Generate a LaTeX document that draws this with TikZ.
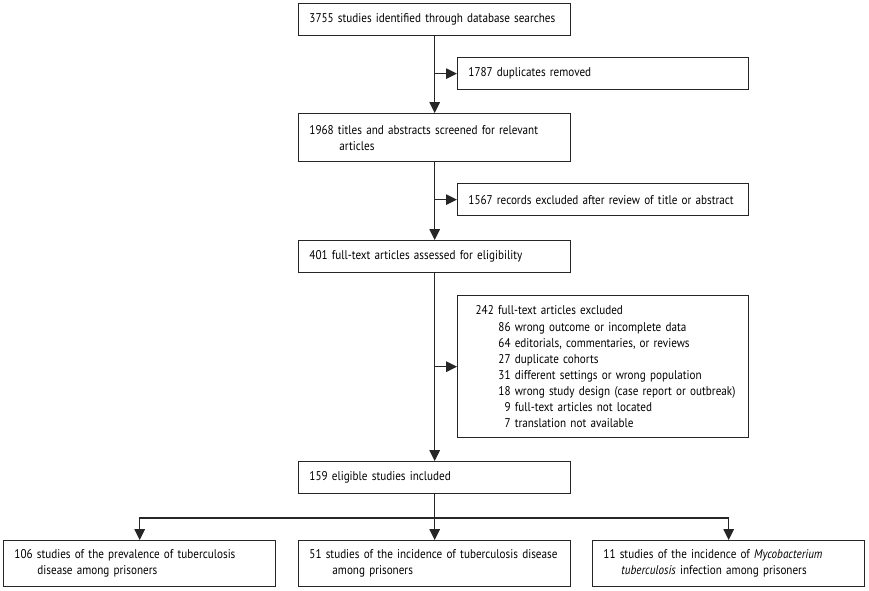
\documentclass[tikz,border=0pt]{standalone}
\usepackage{fontspec}
\setmainfont{PT Sans}[FakeStretch=0.88]
\usetikzlibrary{arrows.meta}
\tikzset{
	box/.style={draw=black!85, line width=0.9pt, anchor=north west, align=left,
		inner xsep=0.27cm, inner ysep=0pt, minimum height=0.8cm,
		font=\fontsize{9}{11.4}\selectfont},
	mainbox/.style={box, text width=6.26cm},
	sidebox/.style={box, text width=6.735cm},
	arr/.style={draw=black!85, line width=0.9pt, -{Triangle[length=0.27cm,width=0.26cm]}},
}
\newcommand{\exclitem}{\hspace*{0.75cm}}
\begin{document}
\begin{tikzpicture}[x=0.025cm,y=-0.025cm]
\useasboundingbox (0,0) rectangle (869,591);

\node[mainbox] (ident) at (298,3) {3755 studies identified through database searches};
\node[sidebox] (dup) at (457,57) {1787 duplicates removed};
\node[mainbox, minimum height=1.2cm] (screen) at (298,113)
	{1968 titles and abstracts screened for relevant\\\hspace*{0.75cm}articles};
\node[sidebox] (recx) at (457,183) {1567 records excluded after review of title or abstract};
\node[mainbox] (full) at (298,240) {401 full-text articles assessed for eligibility};
\node[sidebox, minimum height=3.55cm] (excl) at (457,295)
	{\hspace*{0.18cm}242 full-text articles excluded\\
	\exclitem 86 wrong outcome or incomplete data\\
	\exclitem 64 editorials, commentaries, or reviews\\
	\exclitem 27 duplicate cohorts\\
	\exclitem 31 different settings or wrong population\\
	\exclitem 18 wrong study design (case report or outbreak)\\
	\exclitem\phantom{0}9 full-text articles not located\\
	\exclitem\phantom{0}7 translation not available};
\node[mainbox] (incl) at (298,461) {159 eligible studies included};

\foreach \name/\x/\txt in {
	prev/3/{106 studies of the prevalence of tuberculosis\\\hspace*{0.575cm}disease among prisoners},
	inc/298/{51 studies of the incidence of tuberculosis disease\\\hspace*{0.575cm}among prisoners},
	mtb/592/{11 studies of the incidence of \textit{Mycobacterium}\\\hspace*{0.45cm}\textit{tuberculosis} infection among prisoners}}
	\node[mainbox, minimum height=1.15cm] (\name) at (\x,540) {\txt};

\draw[arr] (ident) -- (screen);
\draw[arr] (ident.south |- dup.west) -- (dup.west);
\draw[arr] (screen) -- (full);
\draw[arr] (screen.south |- recx.west) -- (recx.west);
\draw[arr] (full) -- (incl);
\draw[arr] (full.south |- excl.west) -- (excl.west);

\coordinate (split) at (434,518);
\draw[arr] (incl) -- (inc);
\draw[arr] (split) -| (prev.north);
\draw[arr] (split) -| (mtb.north);
\end{tikzpicture}
\end{document}
